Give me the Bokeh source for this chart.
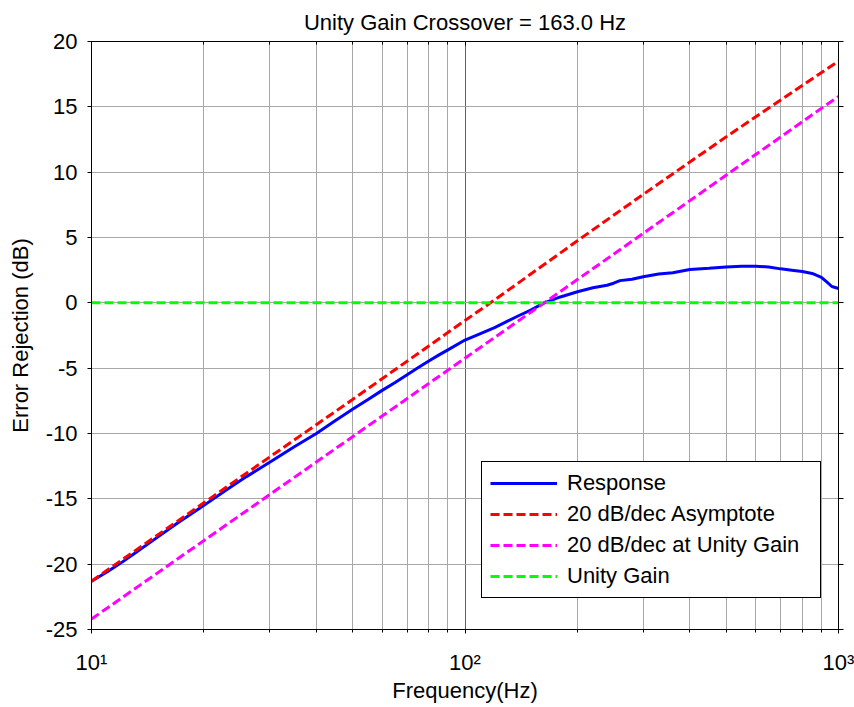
from bokeh.plotting import figure
from bokeh.models import FixedTicker, LinearAxis, LogAxis, Range1d
from bokeh.embed import file_html
from bokeh.resources import INLINE

# ---- data ----
resp_freq = [10, 11, 12, 13, 15, 17, 20, 23, 26, 30, 35, 40, 45, 50, 55, 60, 65, 70, 75,
             80, 85, 90, 100, 110, 120, 130, 140, 150, 163, 180, 200, 220, 240, 250, 260,
             280, 300, 330, 360, 400, 450, 500, 550, 600, 650, 700, 750, 800, 850, 900,
             930, 960, 1000]
resp_db = [-21.3, -20.6, -19.9, -19.2, -17.95, -16.85, -15.5, -14.3, -13.3, -12.2, -11.0,
           -10.0, -9.0, -8.15, -7.4, -6.7, -6.1, -5.5, -4.95, -4.45, -4.0, -3.6, -2.85,
           -2.35, -1.9, -1.4, -0.95, -0.55, 0.0, 0.45, 0.85, 1.15, 1.35, 1.5, 1.7, 1.8,
           2.0, 2.2, 2.3, 2.55, 2.65, 2.75, 2.8, 2.8, 2.75, 2.6, 2.5, 2.4, 2.25, 1.95,
           1.6, 1.25, 1.1]
asym_freq = [10, 20, 30, 50, 100, 117, 200, 300, 500, 1000]
asym_db = [-21.3, -15.3, -11.8, -7.4, -1.35, 0.0, 4.75, 8.3, 12.7, 18.5]
ugslope_freq = [10, 163, 1000]
ugslope_db = [-24.2, 0.0, 15.8]
unity_freq = [10, 1000]
unity_db = [0.0, 0.0]

y_ticks = [-25, -20, -15, -10, -5, 0, 5, 10, 15, 20]
y_tick_labels = ["-25", "-20", "-15", "-10", "-5", "0", "5", "10", "15", "20"]
x_ticks = [10, 100, 1000]
x_tick_labels = ["10\u00b9", "10\u00b2", "10\u00b3"]
x_minor = [20, 30, 40, 50, 60, 70, 80, 90, 200, 300, 400, 500, 600, 700, 800, 900]

FONT = "Liberation Sans"

p = figure(width=854, height=707, x_axis_type="log",
           x_range=Range1d(10, 1000), y_range=Range1d(-25, 20),
           output_backend="svg", toolbar_location=None,
           min_border_left=91, min_border_right=16, min_border_top=41,
           min_border_bottom=78,
           title="Unity Gain Crossover = 163.0 Hz")

p.title.align = "center"
p.title.text_font = FONT
p.title.text_font_size = "22px"
p.title.text_font_style = "normal"
p.title.text_color = "black"
p.title.standoff = 13

p.outline_line_color = "black"
p.outline_line_width = 1
p.background_fill_color = "white"
p.border_fill_color = "white"

xt = FixedTicker(ticks=x_ticks, minor_ticks=x_minor)
yt = FixedTicker(ticks=y_ticks, minor_ticks=[])

xa = p.xaxis[0]
xa.ticker = xt
xa.major_label_overrides = {t: l for t, l in zip(x_ticks, x_tick_labels)}
xa.axis_label = "Frequency(Hz)"
ya = p.yaxis[0]
ya.ticker = yt
ya.major_label_overrides = {t: l for t, l in zip(y_ticks, y_tick_labels)}
ya.axis_label = "Error Rejection (dB)"

for ax in (xa, ya):
    ax.axis_line_color = "black"
    ax.major_tick_line_color = "black"
    ax.minor_tick_line_color = "black"
    ax.major_tick_in = 0
    ax.major_tick_out = 4
    ax.minor_tick_in = 0
    ax.minor_tick_out = 3
    ax.major_label_text_font = FONT
    ax.major_label_text_font_size = "22px"
    ax.major_label_text_color = "black"
    ax.axis_label_text_font = FONT
    ax.axis_label_text_font_size = "22px"
    ax.axis_label_text_font_style = "normal"
    ax.axis_label_text_color = "black"

xa.major_label_standoff = 16
xa.axis_label_standoff = 0
ya.major_label_standoff = 10
ya.axis_label_standoff = 10

# box ticks on the right and top
ra = LinearAxis(ticker=yt, major_label_text_font_size="0px", major_label_standoff=0,
                major_tick_in=0, major_tick_out=5, axis_line_color="black")
ra.major_label_overrides = {t: "" for t in y_ticks}
p.add_layout(ra, "right")
ta = LogAxis(ticker=xt, major_label_text_font_size="0px", major_label_standoff=0,
             major_tick_in=4, major_tick_out=0, minor_tick_in=3, minor_tick_out=0,
             axis_line_color="black")
ta.major_label_overrides = {t: "" for t in x_ticks}
p.add_layout(ta, "above")

p.xgrid.grid_line_color = "#606060"
p.xgrid.minor_grid_line_color = "#a8a8a8"
p.xgrid.ticker = xt
p.ygrid.grid_line_color = "#a8a8a8"
p.ygrid.ticker = yt

p.line(resp_freq, resp_db, line_color="#0000ff", line_width=3, legend_label="Response")
p.line(asym_freq, asym_db, line_color="#ff0000", line_width=3, line_dash="9 4",
       legend_label="20 dB/dec Asymptote")
p.line(ugslope_freq, ugslope_db, line_color="#ff00ff", line_width=3, line_dash="9 4",
       legend_label="20 dB/dec at Unity Gain")
p.line(unity_freq, unity_db, line_color="#00ff00", line_width=3, line_dash="9 4",
       legend_label="Unity Gain")

lg = p.legend[0]
lg.location = (390, 31)
lg.border_line_color = "black"
lg.border_line_width = 1
lg.border_line_alpha = 1
lg.background_fill_color = "white"
lg.background_fill_alpha = 1
lg.label_text_font = FONT
lg.label_text_font_size = "22px"
lg.label_text_color = "black"
lg.glyph_width = 67
lg.glyph_height = 26
lg.label_height = 26
lg.label_width = 245
lg.label_standoff = 10
lg.spacing = 5
lg.padding = 8
lg.margin = 0

open("out.html", "w").write(file_html(p, INLINE))
